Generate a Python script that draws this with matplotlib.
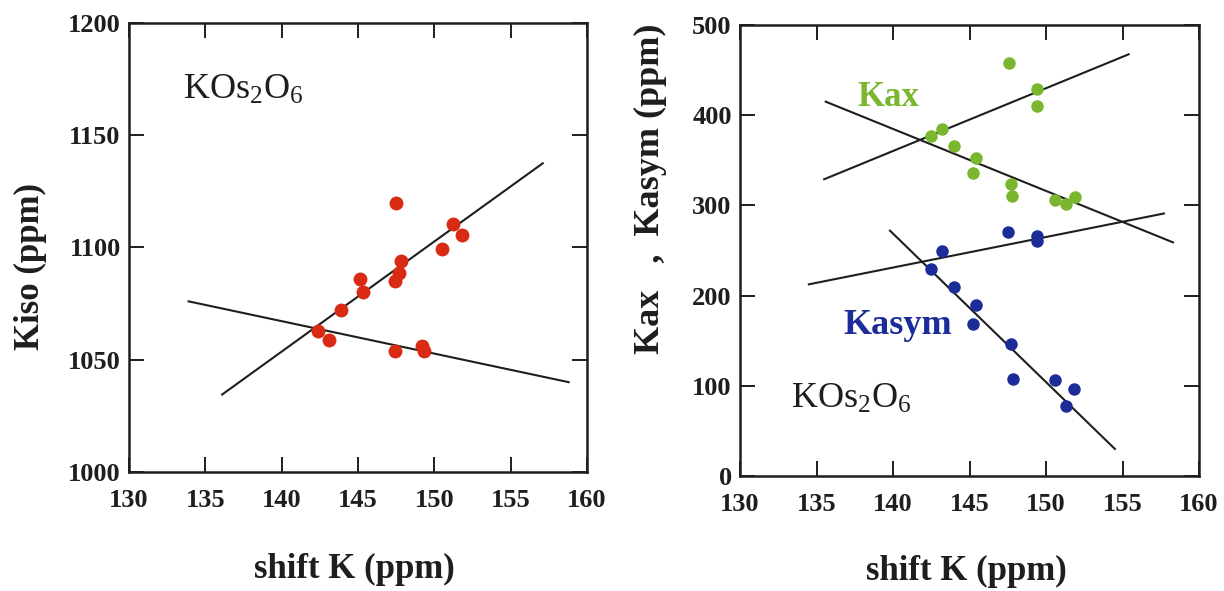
import numpy as np
import matplotlib
matplotlib.use('Agg')
from matplotlib import pyplot as plt

plt.rcParams['font.family'] = 'Liberation Serif'
plt.rcParams['mathtext.fontset'] = 'custom'
plt.rcParams['mathtext.rm'] = 'Liberation Serif'
plt.rcParams['mathtext.it'] = 'Liberation Serif:italic'

# isotropic Knight shift vs shift K
kiso_shift = [147.5, 151.2, 151.8, 150.5, 147.8, 147.7, 147.4, 145.1, 145.3,
              143.9, 142.4, 143.1, 147.4, 149.2, 149.3]
kiso_val = [1120, 1110.5, 1105.5, 1099.5, 1094, 1088.5, 1085, 1086, 1080,
            1072, 1063, 1059, 1054, 1056, 1054]
kiso_fit1_x = [136.1, 157.1]
kiso_fit1_y = [1034.5, 1137.5]
kiso_fit2_x = [133.9, 158.8]
kiso_fit2_y = [1076, 1040]

# axial / asymmetric components
kax_shift = [147.6, 149.4, 149.4, 143.2, 142.5, 144.0, 145.4, 145.2, 147.7,
             147.8, 150.6, 151.3, 151.9]
kax_val = [458, 429, 410, 385, 377, 366, 353, 336, 324, 310, 306, 302, 309]
kasym_shift = [147.5, 149.4, 149.4, 143.2, 142.5, 144.0, 145.4, 145.2, 147.7,
               147.85, 150.6, 151.8, 151.3]
kasym_val = [271, 266, 260, 249, 230, 209, 190, 168, 146, 108, 106, 96, 78]
kax_fit1_x = [135.5, 155.4]
kax_fit1_y = [329, 467.5]
kax_fit2_x = [135.6, 158.3]
kax_fit2_y = [415, 259]
kasym_fit1_x = [134.5, 157.7]
kasym_fit1_y = [212.5, 291]
kasym_fit2_x = [139.8, 154.5]
kasym_fit2_y = [272, 30]

xticks = [130, 135, 140, 145, 150, 155, 160]

red = '#d92a14'
green = '#7ab62e'
blue = '#1c2c98'
ink = '#1e1e1e'

fig = plt.figure(figsize=(12.24, 5.91), dpi=100)
ax1 = fig.add_axes([0.1054, 0.2014, 0.3742, 0.7597])
ax2 = fig.add_axes([0.6046, 0.1946, 0.375, 0.7631])


def style(ax):
    ax.set_xlim(130, 160)
    ax.set_xticks(xticks)
    ax.tick_params(direction='in', length=11, width=1.4, top=True, right=True,
                   labelsize=19, pad=6, colors=ink)
    ax.tick_params(axis='x', pad=12)
    for lab in ax.get_xticklabels() + ax.get_yticklabels():
        lab.set_fontweight('bold')
    for sp in ax.spines.values():
        sp.set_linewidth(1.8)
        sp.set_color(ink)


# left panel
ax1.plot(kiso_fit1_x, kiso_fit1_y, color=ink, lw=1.5)
ax1.plot(kiso_fit2_x, kiso_fit2_y, color=ink, lw=1.5)
ax1.plot(kiso_shift, kiso_val, 'o', color=red, ms=10, mec='none')
ax1.set_ylim(1000, 1200)
ax1.set_yticks([1000, 1050, 1100, 1150, 1200])
style(ax1)
ax1.set_xlabel('shift K (ppm)', fontsize=25, fontweight='bold', color=ink)
ax1.set_ylabel('Kiso (ppm)', fontsize=25, fontweight='bold', color=ink)
ax1.xaxis.set_label_coords(0.493, -0.18)
ax1.yaxis.set_label_coords(-0.18, 0.457)
ax1.text(0.117, 0.83, r'KOs$_2$O$_6$', transform=ax1.transAxes, fontsize=26,
         color=ink)

# right panel
for fx, fy in [(kax_fit1_x, kax_fit1_y), (kax_fit2_x, kax_fit2_y),
               (kasym_fit1_x, kasym_fit1_y), (kasym_fit2_x, kasym_fit2_y)]:
    ax2.plot(fx, fy, color=ink, lw=1.5)
ax2.plot(kax_shift, kax_val, 'o', color=green, ms=9, mec='none')
ax2.plot(kasym_shift, kasym_val, 'o', color=blue, ms=9, mec='none')
ax2.set_ylim(0, 500)
ax2.set_yticks([0, 100, 200, 300, 400, 500])
style(ax2)
ax2.set_xlabel('shift K (ppm)', fontsize=25, fontweight='bold', color=ink)
ax2.set_ylabel('Kax   ,  Kasym (ppm)', fontsize=26, fontweight='bold', color=ink)
ax2.xaxis.set_label_coords(0.494, -0.175)
ax2.yaxis.set_label_coords(-0.16, 0.636)
ax2.text(0.255, 0.82, 'Kax', transform=ax2.transAxes, fontsize=25,
         fontweight='bold', color=green)
ax2.text(0.225, 0.315, 'Kasym', transform=ax2.transAxes, fontsize=26,
         fontweight='bold', color=blue)
ax2.text(0.11, 0.15, r'KOs$_2$O$_6$', transform=ax2.transAxes, fontsize=26,
         color=ink)

fig.savefig('out.png', dpi=100)
